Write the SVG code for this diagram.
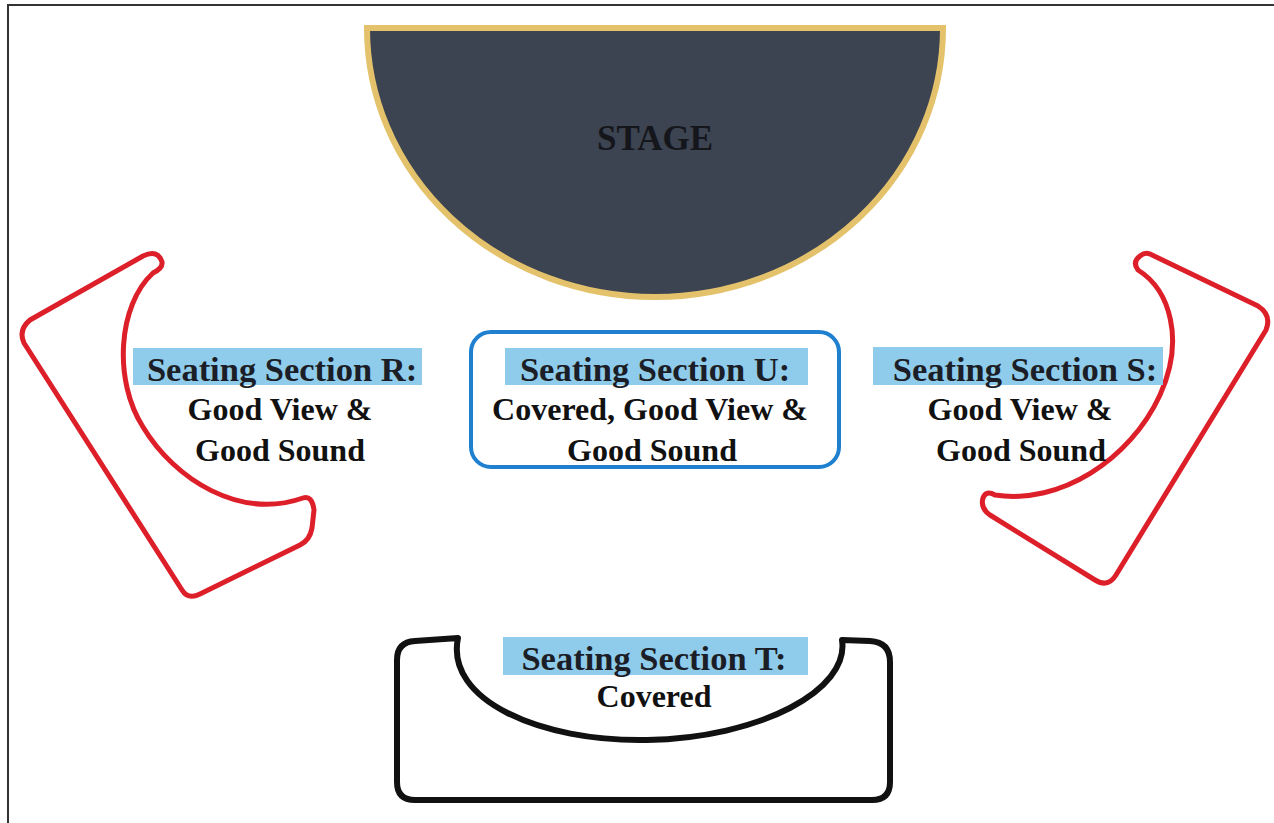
<svg xmlns="http://www.w3.org/2000/svg" width="1274" height="823" viewBox="0 0 1274 823">
  <style>
    .title { font-family: "Liberation Serif", "Times New Roman", serif; font-weight: bold; font-size: 34.5px; fill: #1b1e26; text-anchor: middle; }
    .body { font-family: "Liberation Serif", "Times New Roman", serif; font-weight: bold; font-size: 32px; fill: #111111; text-anchor: middle; }
    .hl { fill: #8fcbeb; }
    .red { fill: none; stroke: #dd1f2a; stroke-width: 5; stroke-linejoin: round; }
  </style>
  <rect x="0" y="0" width="1274" height="823" fill="#ffffff"/>
  <path d="M 8,823 L 8,5 L 1274,5" fill="none" stroke="#333333" stroke-width="2"/>

  <g id="stage">
    <path d="M 367,28 L 943,28 A 288,269 0 0 1 367,28 Z" fill="#3c4351" stroke="#e4c26b" stroke-width="6"/>
    <text x="655" y="150" class="title" style="font-size:35px;fill:#14161b">STAGE</text>
  </g>

  <g id="section-r">
    <path class="red" d="M 30,320 L 143,256 Q 158,249 162,262 Q 163,268 153,273 C 118,305 113,380 143,427 C 175,480 240,520 303,498 Q 312,495 314,510 L 312,528 Q 310,540 300,545 L 200,594 Q 188,600 182,590 L 24,343 Q 18,330 30,320 Z"/>
    <rect class="hl" x="133" y="348" width="289" height="37"/>
    <text x="282" y="381" class="title">Seating Section R:</text>
    <text x="280" y="420" class="body">Good View &amp;</text>
    <text x="280" y="461" class="body">Good Sound</text>
  </g>

  <g id="section-u">
    <rect x="471" y="332" width="368" height="135" rx="20" ry="20" fill="none" stroke="#1f80cf" stroke-width="4"/>
    <rect class="hl" x="505" y="348" width="303" height="37"/>
    <text x="655" y="381" class="title">Seating Section U:</text>
    <text x="650" y="420" class="body">Covered, Good View &amp;</text>
    <text x="652" y="461" class="body">Good Sound</text>
  </g>

  <g id="section-s">
    <path class="red" d="M 1150,254 L 1258,306 Q 1272,315 1266,330 L 1116,575 Q 1108,588 1095,580 L 990,515 Q 980,508 983,498 Q 986,490 995,495 C 1060,505 1130,460 1160,395 C 1185,340 1170,290 1138,270 Q 1132,262 1140,256 Q 1145,252 1150,254 Z"/>
    <rect class="hl" x="873" y="347" width="290" height="38"/>
    <text x="1025" y="381" class="title">Seating Section S:</text>
    <text x="1020" y="420" class="body">Good View &amp;</text>
    <text x="1021" y="461" class="body">Good Sound</text>
  </g>

  <g id="section-t">
    <path d="M 458,638 L 415,641 Q 397,642 397,660 L 397,782 Q 397,800 415,800 L 872,800 Q 890,800 890,782 L 890,662 Q 890,642 870,641 L 842,640 C 850,690 760,738 647,740 C 540,742 445,700 458,638 Z" fill="none" stroke="#111111" stroke-width="6" stroke-linejoin="round"/>
    <rect class="hl" x="503" y="637" width="305" height="38"/>
    <text x="654" y="670" class="title">Seating Section T:</text>
    <text x="654" y="707" class="body">Covered</text>
  </g>
</svg>
